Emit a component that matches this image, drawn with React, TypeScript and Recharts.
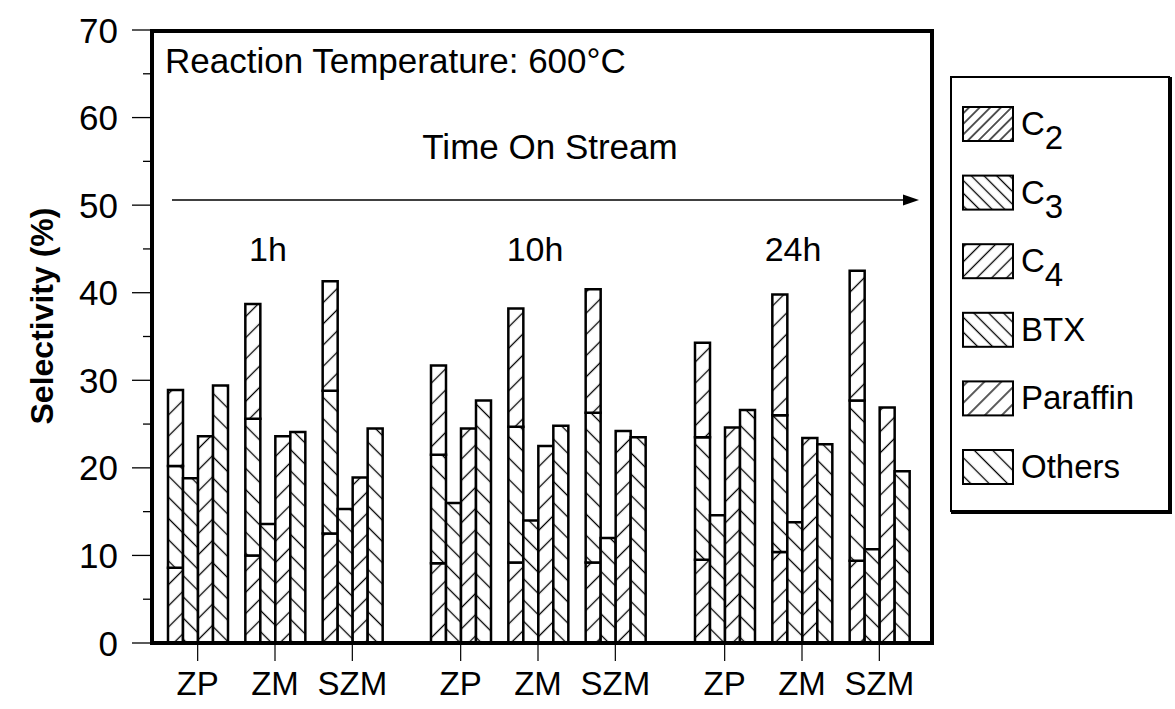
import { Bar, BarChart, XAxis, YAxis } from "recharts";

const times = ["1h", "10h", "24h"];
const catalysts = ["ZP", "ZM", "SZM"];

// selectivity (%) per catalyst, in order ZP/ZM/SZM at 1h, 10h, 24h
const c2 = [8.6, 10.0, 12.5, 9.1, 9.2, 9.2, 9.5, 10.4, 9.4];
const c3 = [11.6, 15.6, 16.3, 12.4, 15.5, 17.1, 14.0, 15.6, 18.3];
const c4 = [8.7, 13.1, 12.5, 10.2, 13.5, 14.1, 10.8, 13.8, 14.8];
const btx = [18.8, 13.6, 15.3, 16.0, 14.0, 12.0, 14.6, 13.8, 10.7];
const paraffin = [23.6, 23.6, 18.9, 24.5, 22.5, 24.2, 24.6, 23.4, 26.9];
const others = [29.4, 24.1, 24.5, 27.7, 24.8, 23.5, 26.6, 22.7, 19.6];

const yTicks = [0, 5, 10, 15, 20, 25, 30, 35, 40, 45, 50, 55, 60, 65, 70];

const series = [
  { key: "c2", label: "C", sub: "2", angle: 45, legendGap: 7.5, stack: "c" },
  { key: "c3", label: "C", sub: "3", angle: -45, legendGap: 9, stack: "c" },
  { key: "c4", label: "C", sub: "4", angle: 45, legendGap: 10.5, stack: "c" },
  { key: "btx", label: "BTX", angle: -45, legendGap: 10.5 },
  { key: "paraffin", label: "Paraffin", angle: 45, legendGap: 12 },
  { key: "others", label: "Others", angle: -45, legendGap: 13 },
];

const rows = times.flatMap((time, t) =>
  catalysts.map((name, c) => {
    const i = t * catalysts.length + c;
    return {
      time,
      name,
      c2: c2[i],
      c3: c3[i],
      c4: c4[i],
      btx: btx[i],
      paraffin: paraffin[i],
      others: others[i],
    };
  })
);

const panels = [
  { left: 0, width: 391, padLeft: 9, withAxis: true },
  { left: 422, width: 232, padLeft: 0, withAxis: false },
  { left: 686, width: 232, padLeft: 0, withAxis: false },
];

const font = "'Liberation Sans', Arial, Helvetica, sans-serif";

const Hatch = ({ id, angle, gap }: { id: string; angle: number; gap: number }) => (
  <pattern
    id={id}
    patternUnits="userSpaceOnUse"
    width={gap}
    height={gap}
    patternTransform={`rotate(${angle})`}
  >
    <rect width={gap} height={gap} fill="#fff" />
    <line x1={gap / 2} y1={0} x2={gap / 2} y2={gap} stroke="#000" strokeWidth={1.3} />
  </pattern>
);

const XTick = ({ x, y, payload }: any) => (
  <text x={x} y={y + 34} textAnchor="middle" fontSize={33} fill="#000">
    {payload.value}
  </text>
);

const YTick = ({ x, y, payload }: any) => {
  const major = payload.value % 10 === 0;
  return (
    <g>
      <line x1={x - (major ? 18 : 7)} x2={x} y1={y} y2={y} stroke="#000" strokeWidth={1.3} />
      {major && (
        <text x={x - 32} y={y} dy="0.36em" textAnchor="end" fontSize={35} fill="#000">
          {payload.value}
        </text>
      )}
    </g>
  );
};

const Panel = ({ index }: { index: number }) => {
  const p = panels[index];
  const data = rows.filter((r) => r.time === times[index]);
  return (
    <div style={{ position: "absolute", left: p.left, top: 0 }}>
      <BarChart
        width={p.width}
        height={709}
        data={data}
        margin={{ top: 30, right: 0, bottom: 0, left: 0 }}
        barSize={15}
        barGap={0}
      >
        <XAxis
          dataKey="name"
          height={66}
          padding={{ left: p.padLeft, right: 0 }}
          axisLine={false}
          tickSize={18}
          tickMargin={0}
          tickLine={{ stroke: "#000", strokeWidth: 1.2 }}
          tick={<XTick />}
        />
        <YAxis
          hide={!p.withAxis}
          width={150}
          domain={[0, 70]}
          ticks={yTicks}
          interval={0}
          axisLine={false}
          tickLine={false}
          tickSize={0}
          tickMargin={0}
          tick={<YTick />}
        />
        {series.map((s) => (
          <Bar
            key={s.key}
            dataKey={s.key}
            stackId={s.stack}
            fill={`url(#bar-${s.key})`}
            stroke="#000"
            strokeWidth={2.5}
            isAnimationActive={false}
          />
        ))}
      </BarChart>
    </div>
  );
};

const Legend = () => (
  <g>
    <rect x={951} y={77} width={218} height={434} fill="#fff" stroke="#000" strokeWidth={2} />
    <line x1={1170} y1={77} x2={1170} y2={513} stroke="#000" strokeWidth={4} />
    <line x1={951} y1={512} x2={1172} y2={512} stroke="#000" strokeWidth={4} />
    {series.map((s, i) => {
      const cy = 124 + i * 68.6;
      return (
        <g key={s.key}>
          <rect
            x={963}
            y={cy - 17}
            width={50}
            height={34}
            fill={`url(#leg-${s.key})`}
            stroke="#000"
            strokeWidth={2}
          />
          <text x={1021} y={cy + 11} fontSize={33} fill="#000">
            {s.label}
            {s.sub && <tspan dy={14}>{s.sub}</tspan>}
          </text>
        </g>
      );
    })}
  </g>
);

export default function App() {
  return (
    <div
      style={{
        position: "absolute",
        left: 0,
        top: 0,
        width: 1175,
        height: 709,
        background: "#fff",
        fontFamily: font,
      }}
    >
      <svg width={0} height={0} style={{ position: "absolute" }}>
        <defs>
          {series.map((s) => (
            <Hatch key={s.key} id={`bar-${s.key}`} angle={s.angle} gap={15} />
          ))}
          {series.map((s) => (
            <Hatch key={s.key} id={`leg-${s.key}`} angle={s.angle} gap={s.legendGap} />
          ))}
        </defs>
      </svg>

      {panels.map((_, i) => (
        <Panel key={i} index={i} />
      ))}

      <svg
        width={1175}
        height={709}
        style={{ position: "absolute", left: 0, top: 0, pointerEvents: "none" }}
        fontFamily={font}
      >
        <rect x={152} y={31} width={780} height={612} fill="none" stroke="#000" strokeWidth={4} />

        <text
          transform="translate(53,316) rotate(-90)"
          textAnchor="middle"
          fontSize={32}
          fontWeight="bold"
          fill="#000"
        >
          Selectivity (%)
        </text>

        <text x={165} y={73} fontSize={35} fill="#000">
          Reaction Temperature: 600°C
        </text>
        <text x={550} y={159} textAnchor="middle" fontSize={35} fill="#000">
          Time On Stream
        </text>
        <line x1={172} y1={200} x2={906} y2={200} stroke="#000" strokeWidth={1.6} />
        <polygon points="919,200 903,194.5 903,205.5" fill="#000" />

        <text x={268} y={261} textAnchor="middle" fontSize={34} fill="#000">
          {times[0]}
        </text>
        <text x={535} y={261} textAnchor="middle" fontSize={34} fill="#000">
          {times[1]}
        </text>
        <text x={793} y={261} textAnchor="middle" fontSize={34} fill="#000">
          {times[2]}
        </text>

        <Legend />
      </svg>
    </div>
  );
}
